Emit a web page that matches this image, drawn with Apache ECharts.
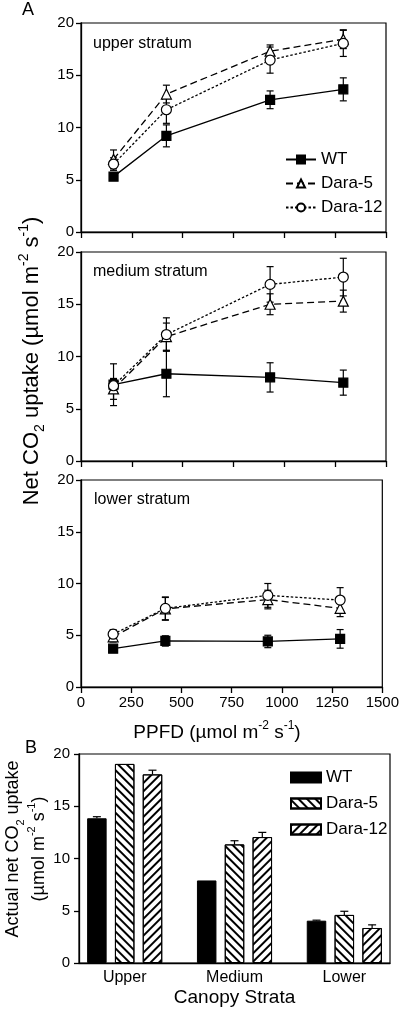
<!DOCTYPE html>
<html><head><meta charset="utf-8">
<script src="https://cdn.jsdelivr.net/npm/echarts@6/dist/echarts.min.js"></script>
<style>html,body{margin:0;padding:0;background:#fff}#c{width:402px;height:1014px}</style>
</head><body><div id="c"></div>
<script>
// ---------- DATA ----------
const ppfd = [160, 420, 930, 1290];
const xTickVals = [0, 250, 500, 750, 1000, 1250, 1500];
const yTickVals = [0, 5, 10, 15, 20];
const seriesNames = ['WT', 'Dara-5', 'Dara-12'];
const strataNames = ['upper stratum', 'medium stratum', 'lower stratum'];

const upperWT = [5.3, 9.2, 12.65, 13.65];
const upperWTErr = [0.35, 1.05, 0.85, 1.1];
const upperD5 = [6.95, 13.2, 17.3, 18.45];
const upperD5Err = [0.9, 0.85, 0.6, 0.9];
const upperD12 = [6.5, 11.7, 16.45, 18.05];
const upperD12Err = [0.6, 1.3, 1.25, 1.25];

const mediumWT = [7.3, 8.35, 8.0, 7.5];
const mediumWTErr = [2.0, 2.2, 1.4, 1.2];
const mediumD5 = [6.9, 11.9, 15.0, 15.3];
const mediumD5Err = [1.0, 1.3, 1.0, 1.05];
const mediumD12 = [7.2, 12.1, 16.9, 17.6];
const mediumD12Err = [0.6, 1.6, 1.7, 1.8];

const lowerWT = [3.7, 4.45, 4.4, 4.65];
const lowerWTErr = [0.25, 0.5, 0.6, 0.9];
const lowerD5 = [4.85, 7.55, 8.45, 7.6];
const lowerD5Err = [0.5, 1.1, 0.9, 0.8];
const lowerD12 = [5.1, 7.6, 8.85, 8.4];
const lowerD12Err = [0.45, 1.1, 1.15, 1.2];

const strata = ['Upper', 'Medium', 'Lower'];
const barWT = [13.85, 7.9, 4.05];
const barWTErr = [0.15, 0, 0.05];
const barD5 = [19.05, 11.35, 4.6];
const barD5Err = [0, 0.35, 0.35];
const barD12 = [18.05, 12.05, 3.35];
const barD12Err = [0.4, 0.45, 0.3];

// ---------- CHART ----------
const FONT = "'Liberation Sans', Arial, Helvetica, sans-serif";
const chart = echarts.init(document.getElementById('c'), null, {renderer: 'canvas'});

const panels = [
  {wt: upperWT, wtE: upperWTErr, d5: upperD5, d5E: upperD5Err, d12: upperD12, d12E: upperD12Err},
  {wt: mediumWT, wtE: mediumWTErr, d5: mediumD5, d5E: mediumD5Err, d12: mediumD12, d12E: mediumD12Err},
  {wt: lowerWT, wtE: lowerWTErr, d5: lowerD5, d5E: lowerD5Err, d12: lowerD12, d12E: lowerD12Err}
];
const gridTops = [23, 252, 480];
const gridHeights = [209, 209, 207];

const lineStyles = [
  {symbol: 'rect', symbolSize: 9, fill: '#000', type: 'solid'},
  {symbol: 'triangle', symbolSize: 10, fill: '#fff', type: [7, 4]},
  {symbol: 'circle', symbolSize: 10, fill: '#fff', type: [2.5, 2]}
];

function errRender(params, api) {
  const x = api.value(0), y = api.value(1), e = api.value(2);
  if (!e) return null;
  const p1 = api.coord([x, y + e]), p2 = api.coord([x, y - e]);
  const w = 3.5, st = {stroke: '#000', lineWidth: 1.2};
  return {type: 'group', children: [
    {type: 'line', shape: {x1: p1[0], y1: p1[1], x2: p2[0], y2: p2[1]}, style: st},
    {type: 'line', shape: {x1: p1[0] - w, y1: p1[1], x2: p1[0] + w, y2: p1[1]}, style: st},
    {type: 'line', shape: {x1: p2[0] - w, y1: p2[1], x2: p2[0] + w, y2: p2[1]}, style: st}
  ]};
}

const grids = [], xAxes = [], yAxes = [], series = [];
panels.forEach((p, gi) => {
  grids.push({left: 81, right: 16, top: gridTops[gi], height: gridHeights[gi], show: true, borderColor: '#000', borderWidth: 1.2});
  xAxes.push({
    gridIndex: gi, type: 'value', min: xTickVals[0], max: xTickVals[xTickVals.length - 1], interval: 250,
    axisLine: {onZero: false, lineStyle: {color: '#000', width: 1.3}},
    axisTick: {show: true, length: 6, lineStyle: {color: '#000', width: 1.3}},
    axisLabel: {show: gi === 2, color: '#000', fontSize: 15, fontFamily: FONT, margin: 8, formatter: v => String(v)},
    splitLine: {show: false}
  });
  yAxes.push({
    gridIndex: gi, type: 'value', min: yTickVals[0], max: yTickVals[yTickVals.length - 1], interval: 5,
    axisLine: {show: true, onZero: false, lineStyle: {color: '#000', width: 1.3}},
    axisTick: {show: true, length: 5, lineStyle: {color: '#000', width: 1.3}},
    axisLabel: {color: '#000', fontSize: 15, fontFamily: FONT, margin: 7},
    splitLine: {show: false}
  });
  const vals = [p.wt, p.d5, p.d12], errs = [p.wtE, p.d5E, p.d12E];
  vals.forEach((v, si) => {
    series.push({
      type: 'custom', xAxisIndex: gi, yAxisIndex: gi, z: 1, silent: true,
      renderItem: errRender,
      data: ppfd.map((x, i) => [x, v[i], errs[si][i]])
    });
  });
  vals.forEach((v, si) => {
    const ls = lineStyles[si];
    series.push({
      type: 'line', name: seriesNames[si], xAxisIndex: gi, yAxisIndex: gi, z: 3,
      symbol: ls.symbol, symbolSize: ls.symbolSize, showAllSymbol: true,
      lineStyle: {color: '#000', width: 1.3, type: ls.type},
      itemStyle: {color: ls.fill, borderColor: '#000', borderWidth: 1.2},
      data: ppfd.map((x, i) => [x, v[i]])
    });
  });
});

// Panel B
const BAR_W = 19.5, BAR_GAP_PX = 8.3;
grids.push({left: 79, right: 12, top: 754, height: 209, show: true, borderColor: '#000', borderWidth: 1.2});
xAxes.push({
  gridIndex: 3, type: 'value', min: -0.416, max: 2.416,
  axisLine: {onZero: false, lineStyle: {color: '#000', width: 1.3}},
  axisTick: {show: false},
  axisLabel: {color: '#000', fontSize: 16, fontFamily: FONT, margin: 7, customValues: [0, 1, 2], formatter: v => strata[Math.round(v)]},
  splitLine: {show: false},
  name: 'Canopy Strata', nameLocation: 'middle', nameGap: 25,
  nameTextStyle: {color: '#000', fontSize: 19, fontFamily: FONT}
});
yAxes.push({
  gridIndex: 3, type: 'value', min: 0, max: 20, interval: 5,
  axisLine: {show: true, onZero: false, lineStyle: {color: '#000', width: 1.3}},
  axisTick: {show: true, length: 5, lineStyle: {color: '#000', width: 1.3}},
  axisLabel: {color: '#000', fontSize: 15, fontFamily: FONT, margin: 9},
  splitLine: {show: false}
});
const barVals = [barWT, barD5, barD12], barErrs = [barWTErr, barD5Err, barD12Err];
const barNames = seriesNames.map(n => n + ' ');
const decals = [
  null,
  {symbol: 'rect', symbolSize: 1, dashArrayX: [1, 0], dashArrayY: [1.3, 3.2], rotation: Math.PI / 4, color: '#000'},
  {symbol: 'rect', symbolSize: 1, dashArrayX: [1, 0], dashArrayY: [1.3, 3.2], rotation: -Math.PI / 4, color: '#000'}
];
barVals.forEach((v, si) => {
  series.push({
    type: 'bar', name: barNames[si], xAxisIndex: 3, yAxisIndex: 3, z: 2,
    barWidth: BAR_W, barGap: (BAR_GAP_PX / BAR_W * 100).toFixed(1) + '%',
    itemStyle: si === 0 ? {color: '#000', borderColor: '#000', borderWidth: 1}
                        : {color: '#fff', borderColor: '#000', borderWidth: 1, decal: decals[si]},
    data: strata.map((s, i) => [i, v[i]])
  });
});
barVals.forEach((v, si) => {
  const off = (si - 1) * (BAR_W + BAR_GAP_PX);
  series.push({
    type: 'custom', xAxisIndex: 3, yAxisIndex: 3, z: 1, silent: true,
    renderItem: (params, api) => {
      const x = api.value(0), y = api.value(1), e = api.value(2);
      if (!e) return null;
      const p1 = api.coord([x, y + e]), p2 = api.coord([x, y]);
      const st = {stroke: '#000', lineWidth: 1.2};
      return {type: 'group', children: [
        {type: 'line', shape: {x1: p1[0] + off, y1: p1[1], x2: p2[0] + off, y2: p2[1]}, style: st},
        {type: 'line', shape: {x1: p1[0] + off - 4, y1: p1[1], x2: p1[0] + off + 4, y2: p1[1]}, style: st}
      ]};
    },
    data: strata.map((s, i) => [i, v[i], barErrs[si][i]])
  });
});

const rich = (fs) => ({
  n: {fontSize: fs, fontFamily: FONT, color: '#000', lineHeight: fs + 8},
  sup: {fontSize: Math.round(fs * 0.62), fontFamily: FONT, color: '#000', verticalAlign: 'top', lineHeight: fs + 8},
  sub: {fontSize: Math.round(fs * 0.62), fontFamily: FONT, color: '#000', verticalAlign: 'bottom', lineHeight: fs + 8}
});

const graphics = [
  {type: 'text', left: 22, top: 1, style: {text: 'A', font: '18px ' + FONT, fill: '#000'}},
  {type: 'text', left: 25, top: 739, style: {text: 'B', font: '18px ' + FONT, fill: '#000'}},
  {type: 'text', left: 93, top: 36, style: {text: strataNames[0], font: '16px ' + FONT, fill: '#000'}},
  {type: 'text', left: 93, top: 264, style: {text: strataNames[1], font: '16px ' + FONT, fill: '#000'}},
  {type: 'text', left: 94, top: 492, style: {text: strataNames[2], font: '16px ' + FONT, fill: '#000'}},
  {type: 'text', x: 32, y: 361, rotation: Math.PI / 2,
   style: {text: '{n|Net CO}{sub|2}{n| uptake (µmol m}{sup|-2}{n| s}{sup|-1}{n|)}', rich: rich(22), align: 'center', verticalAlign: 'middle'}},
  {type: 'text', x: 217, y: 733,
   style: {text: '{n|PPFD (µmol m}{sup|-2}{n| s}{sup|-1}{n|)}', rich: rich(19), align: 'center', verticalAlign: 'middle'}},
  {type: 'text', x: 26, y: 849, rotation: Math.PI / 2,
   style: {text: '{n|Actual net CO}{sub|2}{n| uptake}\n{n|(µmol m}{sup|-2}{n| s}{sup|-1}{n|)}', rich: rich(18), align: 'center', verticalAlign: 'middle'}}
];

chart.setOption({
  animation: false,
  backgroundColor: '#fff',
  grid: grids, xAxis: xAxes, yAxis: yAxes, series: series,
  legend: [
    {data: seriesNames, orient: 'vertical', left: 280, top: 146, itemWidth: 30, itemHeight: 10, itemGap: 7,
     textStyle: {fontSize: 17, fontFamily: FONT, color: '#000'}, selectedMode: false},
    {data: barNames, orient: 'vertical', left: 285, top: 764, itemWidth: 30, itemHeight: 10, itemGap: 9, icon: 'rect',
     textStyle: {fontSize: 17, fontFamily: FONT, color: '#000'}, selectedMode: false}
  ],
  graphic: graphics
});
</script></body></html>
